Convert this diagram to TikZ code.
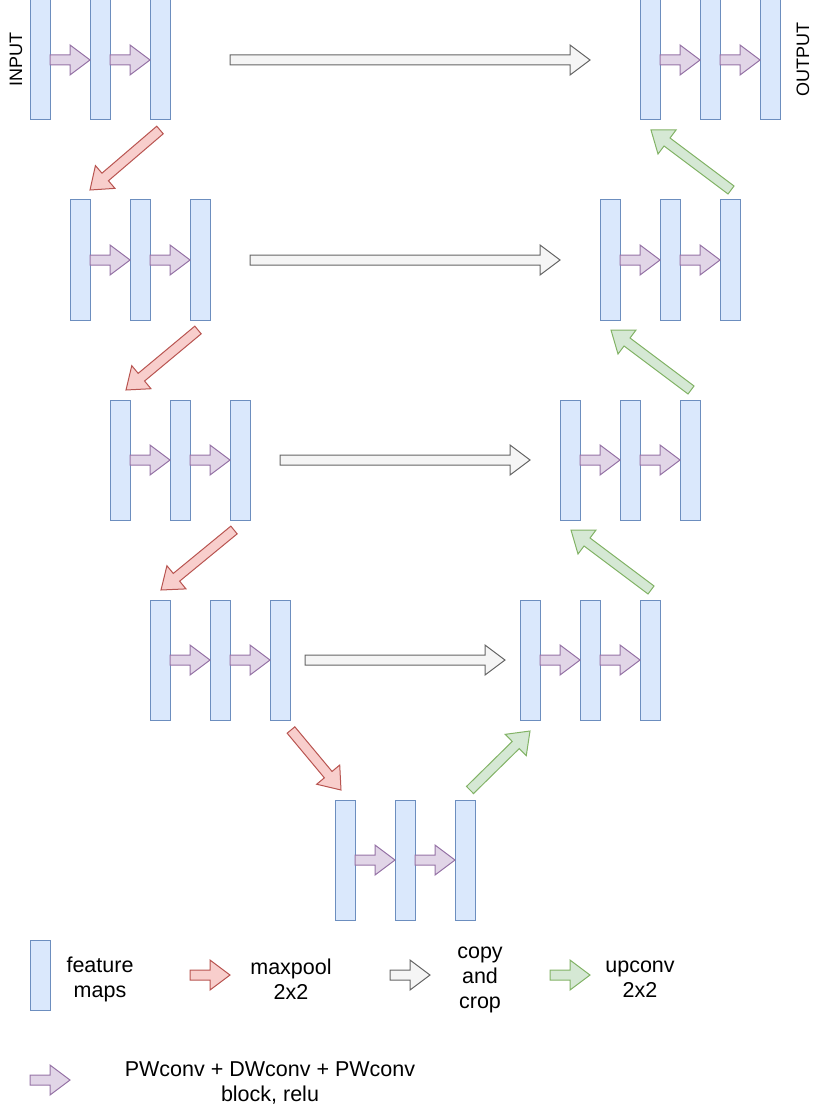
\documentclass[tikz,border=0pt]{standalone}
\usepackage{fontspec}
\setmainfont{Liberation Sans}
\usetikzlibrary{calc}
\definecolor{fmfill}{HTML}{DAE8FC}\definecolor{fmline}{HTML}{6C8EBF}
\definecolor{rdfill}{HTML}{F8CECC}\definecolor{rdline}{HTML}{B85450}
\definecolor{grfill}{HTML}{D5E8D4}\definecolor{grline}{HTML}{82B366}
\definecolor{pufill}{HTML}{E1D5E7}\definecolor{puline}{HTML}{9673A6}
\definecolor{gyfill}{HTML}{F5F5F5}\definecolor{gyline}{HTML}{666666}
\tikzset{
  fmap/.style={draw=fmline,fill=fmfill,line width=1pt,minimum width=20pt,minimum height=120pt,inner sep=0pt,outer sep=0pt},
  fmapsmall/.style={fmap,minimum height=70pt},
  pwarrow/.style={draw=puline,fill=pufill,line width=1pt,line join=miter},
  mparrow/.style={draw=rdline,fill=rdfill,line width=1pt,line join=miter},
  cparrow/.style={draw=gyline,fill=gyfill,line width=1pt,line join=miter},
  uparrow/.style={draw=grline,fill=grfill,line width=1pt,line join=miter},
  lbl/.style={align=center,font=\fontsize{21.5}{25}\selectfont,inner sep=0pt},
  sidelbl/.style={font=\fontsize{18}{21}\selectfont,inner sep=0pt,rotate=90},
}
\newcommand\flexar[3]{%
  \coordinate (fa-n) at ($(#3)!20pt!(#2)$);
  \draw[#1] ($(#2)!5pt!90:(#3)$) -- ($(fa-n)!5pt!90:(#3)$) -- ($(fa-n)!15pt!90:(#3)$)
    -- (#3) -- ($(fa-n)!15pt!-90:(#3)$) -- ($(fa-n)!5pt!-90:(#3)$) -- ($(#2)!5pt!-90:(#3)$) -- cycle;}
\begin{document}
\begin{tikzpicture}[x=1pt,y=-1pt]
\useasboundingbox (0,0) rectangle (819,1107);
% encoder rows
\foreach \r/\y/\xa in {1/60/40, 2/260/80, 3/460/120, 4/660/160}{
  \node[fmap] (L\r a) at (\xa,\y) {};
  \node[fmap] (L\r b) at (\xa+60,\y) {};
  \node[fmap] (L\r c) at (\xa+120,\y) {};
}
\foreach \r/\y/\xa in {1/60/650, 2/260/610, 3/460/570, 4/660/530}{
  \node[fmap] (R\r a) at (\xa,\y) {};
  \node[fmap] (R\r b) at (\xa+60,\y) {};
  \node[fmap] (R\r c) at (\xa+120,\y) {};
}
\node[fmap] (Ba) at (345,860) {};
\node[fmap] (Bb) at (405,860) {};
\node[fmap] (Bc) at (465,860) {};
% block arrows
\foreach \s in {L1,L2,L3,L4,R1,R2,R3,R4,B}{
  \flexar{pwarrow}{\s a.east}{\s b.west}
  \flexar{pwarrow}{\s b.east}{\s c.west}
}
% copy and crop
\coordinate (c1s) at (230,60);  \coordinate (c1e) at (590,60);
\coordinate (c2s) at (250,260); \coordinate (c2e) at (560,260);
\coordinate (c3s) at (280,460); \coordinate (c3e) at (530,460);
\coordinate (c4s) at (305,660); \coordinate (c4e) at (505,660);
\foreach \i in {1,2,3,4}{\flexar{cparrow}{c\i s}{c\i e}}
% maxpool
\coordinate (m1s) at (160,130); \coordinate (m1e) at (90,190);
\coordinate (m2s) at (198,330); \coordinate (m2e) at (126,390);
\coordinate (m3s) at (234,530); \coordinate (m3e) at (161,590);
\coordinate (m4s) at (291,730); \coordinate (m4e) at (341,790);
\foreach \i in {1,2,3,4}{\flexar{mparrow}{m\i s}{m\i e}}
% upconv
\coordinate (u1s) at (470,790); \coordinate (u1e) at (530,731);
\coordinate (u2s) at (651,590); \coordinate (u2e) at (571,530);
\coordinate (u3s) at (691,390); \coordinate (u3e) at (611,330);
\coordinate (u4s) at (731,190); \coordinate (u4e) at (651,130);
\foreach \i in {1,2,3,4}{\flexar{uparrow}{u\i s}{u\i e}}
% side labels
\node[sidelbl] (inlbl) at (16,60) {INPUT};
\node[sidelbl] (outlbl) at (803,60) {OUTPUT};
% legend
\node[fmapsmall] (legfm) at (40,975) {};
\node[lbl] (legfmt) at (100,979) {feature\\maps};
\coordinate (lm1) at (190,975); \coordinate (lm2) at (230,975);
\flexar{mparrow}{lm1}{lm2}
\node[lbl] (legmpt) at (291,979) {maxpool\\2x2};
\coordinate (lc1) at (390,975); \coordinate (lc2) at (430,975);
\flexar{cparrow}{lc1}{lc2}
\node[lbl] (legcpt) at (480,980) {copy\\and\\crop};
\coordinate (lu1) at (550,975); \coordinate (lu2) at (590,975);
\flexar{uparrow}{lu1}{lu2}
\node[lbl] (leguct) at (640,979) {upconv\\2x2};
\coordinate (lp1) at (30,1080); \coordinate (lp2) at (70,1080);
\flexar{pwarrow}{lp1}{lp2}
\node[lbl] (legpwt) at (270,1083) {PWconv + DWconv + PWconv\\block, relu};
\end{tikzpicture}
\end{document}
